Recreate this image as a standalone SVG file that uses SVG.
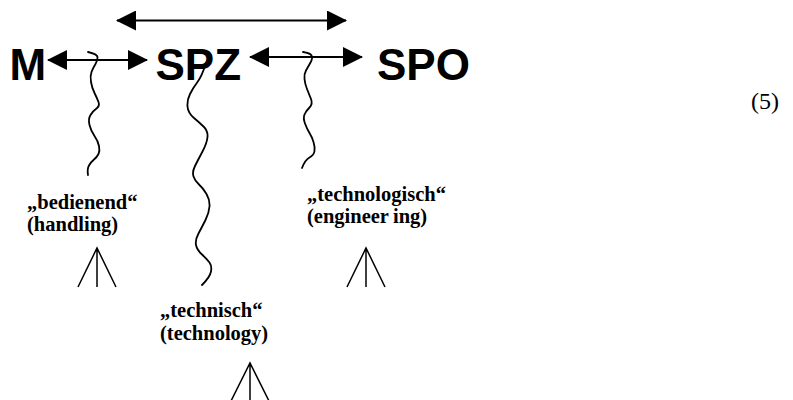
<svg xmlns="http://www.w3.org/2000/svg" width="793" height="400" viewBox="0 0 793 400">
<defs>
<marker id="ah" viewBox="0 0 20 20" markerUnits="userSpaceOnUse" markerWidth="20" markerHeight="20" refX="19" refY="10" orient="auto-start-reverse">
<path d="M0,0 L20,10 L0,20 z" fill="#000"/>
</marker>
<style>
.big{font-family:"Liberation Sans",Arial,sans-serif;font-weight:bold;font-size:44px;fill:#000}
.lab{font-family:"Liberation Serif","Times New Roman",serif;font-weight:bold;font-size:20.5px;fill:#000}
.num{font-family:"Liberation Serif","Times New Roman",serif;font-size:24px;fill:#000}
.arr{stroke:#000;stroke-width:2;fill:none;marker-start:url(#ah);marker-end:url(#ah)}
.sq{stroke:#000;stroke-width:1.8;fill:none;stroke-linecap:round;stroke-linejoin:round}
.tri{stroke:#000;stroke-width:1.5;fill:none}
</style>
</defs>
<rect width="793" height="400" fill="#fff"/>
<g id="node-M"><text class="big" x="9.5" y="80">M</text></g>
<g id="node-SPZ"><text class="big" x="155.5" y="80">SPZ</text></g>
<g id="node-SPO"><text class="big" x="377" y="80">SPO</text></g>
<g id="label-bedienend">
<text class="lab" x="27" y="209">„bedienend“</text>
<text class="lab" x="27" y="231">(handling)</text>
</g>
<g id="label-technologisch">
<text class="lab" x="307" y="201">„technologisch“</text>
<text class="lab" x="307" y="223">(engineer<tspan dx="4">ing)</tspan></text>
</g>
<g id="label-technisch">
<text class="lab" x="160" y="317">„technisch“</text>
<text class="lab" x="160" y="340">(technology)</text>
</g>
<g id="eqnum"><text class="num" x="751" y="109">(5)</text></g>
<g id="connectors">
<line class="arr" x1="117" y1="20.5" x2="346" y2="20.5"/>
<line class="arr" x1="48" y1="60" x2="147" y2="60"/>
<line class="arr" x1="250" y1="57" x2="362" y2="57"/>
<path class="sq" d="M88,52 Q97,54 97.5,57 Q98,60 95.5,64 Q93,68 91.5,72 Q90,76 91,82 Q92,88 94.5,93 Q97,98 98.5,102 Q100,106 96.5,108.5 Q93,111 90.5,115 Q88,119 89.5,125 Q91,131 94.5,136 Q98,141 99,146 Q100,151 98.5,154 Q97,157 94,159.5 Q91,162 89,165.5 Q87,169 88,175"/>
<path class="sq" d="M206,63 Q202,76 197.5,82 Q193,88 190,94 Q187,100 187.5,106.5 Q188,113 194,118 Q200,123 204,127 Q208,131 207.5,137 Q207,143 202.5,151.5 Q198,160 195,166 Q192,172 193.5,176.5 Q195,181 199,184.5 Q203,188 206.5,194 Q210,200 209.5,206.5 Q209,213 205.5,220 Q202,227 198.5,233.5 Q195,240 196,245 Q197,250 202,254.5 Q207,259 209.5,262.5 Q212,266 211,271.5 Q210,277 202,285"/>
<path class="sq" d="M303,52 Q310,53 311.5,55.5 Q313,58 310.5,62.5 Q308,67 306,70.5 Q304,74 304.5,79 Q305,84 307,89 Q309,94 311,99 Q313,104 309.5,107.5 Q306,111 304.5,114.5 Q303,118 305,123.5 Q307,129 309.5,133 Q312,137 313.5,142 Q315,147 314.5,151 Q314,155 309.5,157.5 Q305,160 302,168"/>
<path class="tri" d="M78,287 L97,248 L116,287 M97,248 L97,287"/>
<path class="tri" d="M347,287 L366,248 L385,287 M366,248 L366,287"/>
<path class="tri" d="M231,401 L250,363 L269,401 M250,363 L250,401"/>
</g>
</svg>
